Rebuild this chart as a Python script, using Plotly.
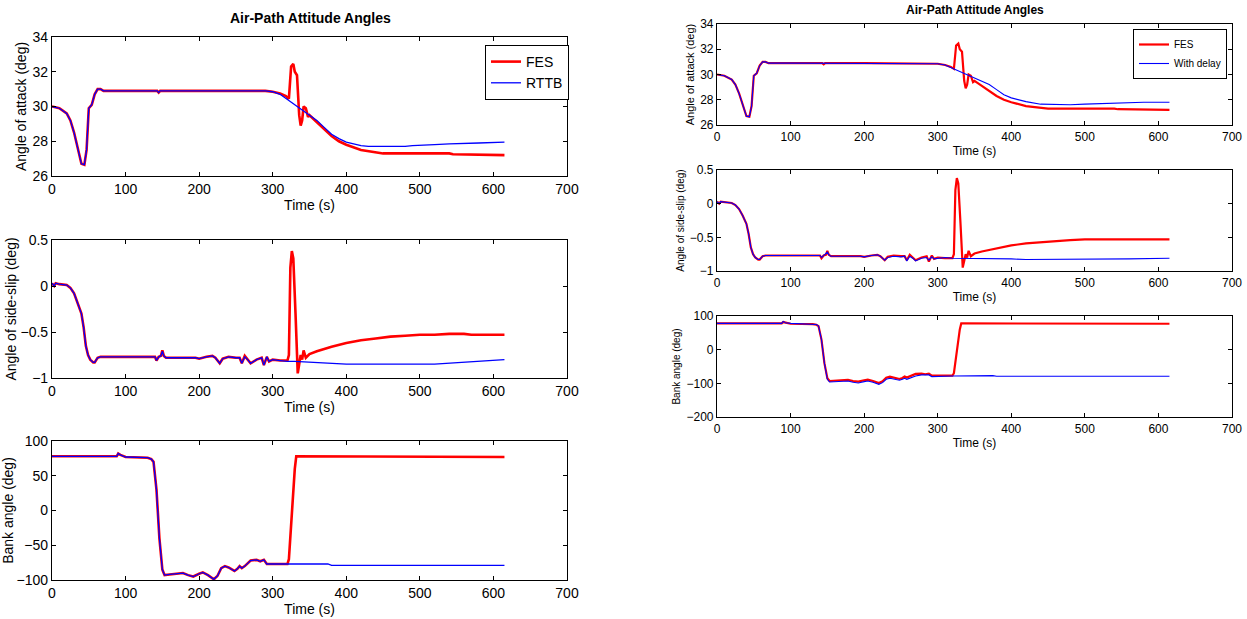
import plotly.graph_objects as go

# ---------------- data ----------------
# Angle of attack (deg)
t_aoa_fes = [0, 10, 20, 25, 30, 35, 40, 44, 47, 50, 54, 58, 62, 66, 70, 100, 143, 145, 147, 200, 290, 300,
             310, 318, 322, 325, 328, 330, 333, 336, 338, 340, 342, 345, 348, 350, 355, 360, 370, 380, 390,
             400, 420, 440, 450, 540, 545, 615]
aoa_fes = [30.0, 29.9, 29.6, 29.2, 28.5, 27.6, 26.7, 26.65, 27.5, 29.9, 30.1, 30.7, 31.0, 31.0, 30.9, 30.9,
           30.9, 30.8, 30.9, 30.9, 30.9, 30.85, 30.75, 30.6, 30.45, 32.3, 32.45, 32.0, 31.8, 29.5, 28.9, 29.2,
           30.0, 29.9, 29.4, 29.5, 29.3, 29.1, 28.7, 28.3, 28.0, 27.8, 27.5, 27.35, 27.3, 27.3, 27.25, 27.2]
t_aoa_rttb = [0, 10, 20, 25, 30, 35, 40, 44, 47, 50, 54, 58, 62, 66, 70, 100, 143, 145, 147, 200, 290, 300,
              310, 320, 330, 340, 350, 360, 370, 380, 390, 400, 420, 430, 480, 490, 520, 540, 580, 615]
aoa_rttb = [30.0, 29.9, 29.6, 29.2, 28.5, 27.6, 26.7, 26.65, 27.5, 29.9, 30.1, 30.7, 31.0, 31.0, 30.9, 30.9,
            30.9, 30.8, 30.9, 30.9, 30.9, 30.85, 30.7, 30.4, 30.1, 29.8, 29.5, 29.2, 28.8, 28.4, 28.15, 27.95,
            27.75, 27.7, 27.7, 27.75, 27.8, 27.85, 27.9, 27.95]
t_aoa_delay = [0, 10, 20, 25, 30, 35, 40, 44, 47, 50, 54, 58, 62, 66, 70, 100, 200, 290, 300,
               310, 320, 330, 340, 350, 360, 370, 380, 390, 400, 420, 440, 460, 480, 500, 540, 580, 615]
aoa_delay = [30.0, 29.9, 29.6, 29.2, 28.5, 27.6, 26.7, 26.65, 27.5, 29.9, 30.1, 30.7, 31.0, 31.0, 30.9, 30.9,
             30.9, 30.9, 30.85, 30.75, 30.5, 30.25, 30.0, 29.75, 29.5, 29.2, 28.8, 28.4, 28.15, 27.85, 27.65,
             27.6, 27.6, 27.65, 27.75, 27.8, 27.8]

# Angle of side-slip (deg)
t_ss_fes = [0, 3, 5, 10, 20, 25, 30, 35, 40, 43, 46, 49, 52, 56, 58, 62, 66, 90, 140, 142, 145, 148, 150, 152,
            155, 195, 200, 210, 218, 222, 228, 232, 240, 250, 255, 258, 262, 266, 270, 278, 285, 288, 292, 295,
            300, 310, 320, 322, 324, 326, 328, 331, 334, 336, 338, 340, 342, 345, 350, 360, 380, 400, 420, 440,
            460, 480, 500, 520, 540, 560, 570, 615]
ss_fes = [0.03, 0.0, 0.03, 0.02, 0.01, -0.02, -0.08, -0.18, -0.3, -0.45, -0.65, -0.75, -0.8, -0.83, -0.83,
          -0.78, -0.77, -0.77, -0.77, -0.81, -0.77, -0.76, -0.7, -0.76, -0.78, -0.78, -0.79, -0.77, -0.76, -0.78,
          -0.84, -0.79, -0.77, -0.78, -0.78, -0.84, -0.76, -0.8, -0.84, -0.8, -0.78, -0.86, -0.77, -0.82, -0.8,
          -0.81, -0.81, -0.75, 0.2, 0.38, 0.3, -0.3, -0.95, -0.85, -0.75, -0.8, -0.7, -0.78, -0.74, -0.71, -0.66,
          -0.62, -0.59, -0.57, -0.55, -0.54, -0.53, -0.53, -0.52, -0.52, -0.53, -0.53]
t_ss_rttb = [0, 3, 5, 10, 20, 25, 30, 35, 40, 43, 46, 49, 52, 56, 58, 62, 66, 90, 140, 142, 145, 148, 150, 152,
             155, 195, 200, 210, 218, 222, 228, 232, 240, 250, 255, 258, 262, 266, 270, 278, 285, 288, 292, 295,
             300, 310, 320, 330, 360, 380, 400, 520, 540, 570, 600, 615]
ss_rttb = [0.03, 0.0, 0.03, 0.02, 0.01, -0.02, -0.08, -0.18, -0.3, -0.45, -0.65, -0.75, -0.8, -0.83, -0.83,
           -0.78, -0.77, -0.77, -0.77, -0.81, -0.77, -0.76, -0.71, -0.76, -0.78, -0.78, -0.79, -0.77, -0.76, -0.78,
           -0.84, -0.79, -0.77, -0.78, -0.78, -0.84, -0.77, -0.8, -0.84, -0.8, -0.78, -0.86, -0.77, -0.82, -0.8,
           -0.81, -0.82, -0.82, -0.83, -0.84, -0.85, -0.85, -0.84, -0.83, -0.81, -0.8]
t_ss_delay = [0, 3, 5, 10, 20, 25, 30, 35, 40, 43, 46, 49, 52, 56, 58, 62, 66, 90, 140, 142, 145, 148, 150, 152,
              155, 195, 200, 210, 218, 222, 228, 232, 240, 250, 255, 258, 262, 266, 270, 278, 285, 288, 292, 295,
              300, 310, 320, 330, 380, 400, 420, 520, 560, 615]
ss_delay = [0.03, 0.0, 0.03, 0.02, 0.01, -0.02, -0.08, -0.18, -0.3, -0.45, -0.65, -0.75, -0.8, -0.83, -0.83,
            -0.78, -0.77, -0.77, -0.77, -0.8, -0.77, -0.75, -0.72, -0.76, -0.78, -0.78, -0.79, -0.77, -0.76, -0.78,
            -0.84, -0.8, -0.78, -0.79, -0.78, -0.85, -0.78, -0.81, -0.85, -0.81, -0.8, -0.84, -0.79, -0.82, -0.81,
            -0.8, -0.81, -0.81, -0.81, -0.82, -0.83, -0.83, -0.82, -0.81]

# Bank angle (deg)
t_bank_fes = [0, 88, 90, 93, 100, 130, 135, 138, 142, 146, 150, 153, 160, 170, 178, 185, 192, 200, 205, 212,
              220, 225, 230, 235, 240, 248, 252, 255, 258, 262, 270, 278, 283, 288, 292, 300, 320, 322, 326, 330,
              332, 340, 350, 615]
bank_fes = [78, 78, 82, 80, 77, 76, 74, 70, 30, -40, -85, -93, -92, -91, -90, -93, -95, -91, -89, -93, -99, -94,
            -83, -80, -82, -87, -84, -80, -83, -80, -72, -71, -73, -71, -77, -77, -77, -70, 0, 60, 78, 78, 77, 77]
t_bank_rttb = [0, 88, 90, 93, 100, 130, 135, 138, 142, 146, 150, 153, 160, 170, 178, 185, 192, 200, 205, 212,
               220, 225, 230, 235, 240, 248, 252, 255, 258, 262, 270, 278, 283, 288, 292, 300, 320, 375, 380, 615]
bank_rttb = [78, 78, 82, 80, 77, 76, 74, 70, 30, -40, -85, -93, -92, -91, -90, -93, -95, -91, -89, -93, -99, -94,
             -83, -80, -82, -87, -84, -80, -83, -80, -72, -71, -73, -71, -77, -77, -77, -77, -79, -79]
t_bank_delay = [0, 88, 90, 93, 100, 130, 135, 138, 142, 146, 150, 153, 160, 170, 178, 185, 192, 200, 205, 212,
                220, 225, 230, 235, 240, 248, 252, 255, 258, 262, 270, 278, 283, 288, 292, 300, 320, 375, 380, 615]
bank_delay = [78, 78, 84, 80, 78, 77, 75, 70, 30, -40, -88, -96, -95, -94, -93, -97, -99, -95, -93, -97, -103,
              -98, -88, -85, -87, -91, -88, -85, -88, -84, -78, -75, -76, -75, -80, -80, -78, -77, -79, -79]

# ---------------- figure ----------------
W, H = 1247, 619
RED, BLUE = "#ff0000", "#0000ff"
FONT = "Liberation Sans, Arial, sans-serif"


def dom_x(a, b):
    return [a / W, b / W]


def dom_y(top, bottom):
    return [1 - bottom / H, 1 - top / H]


panels = [
    dict(x=(52, 567), y=(37, 176), yr=[26, 34], dt=2, title="Angle of attack (deg)", fs=14, tfs=14, so=2),
    dict(x=(52, 567), y=(240, 378), yr=[-1, 0.5], dt=0.5, title="Angle of side-slip (deg)", fs=14, tfs=14, so=0),
    dict(x=(52, 567), y=(441, 580), yr=[-100, 100], dt=50, title="Bank angle (deg)", fs=14, tfs=14, so=0),
    dict(x=(717, 1232), y=(24, 125), yr=[26, 34], dt=2, title="Angle of attack (deg)", fs=12, tfs=11, so=3),
    dict(x=(717, 1232), y=(170, 271), yr=[-1, 0.5], dt=0.5, title="Angle of side-slip (deg)", fs=12, tfs=10, so=3),
    dict(x=(717, 1232), y=(316, 417), yr=[-200, 100], dt=100, title="Bank angle (deg)", fs=12, tfs=10, so=3),
]

series = [
    (t_aoa_fes, aoa_fes, t_aoa_rttb, aoa_rttb, "RTTB", "legend"),
    (t_ss_fes, ss_fes, t_ss_rttb, ss_rttb, "RTTB", "legend"),
    (t_bank_fes, bank_fes, t_bank_rttb, bank_rttb, "RTTB", "legend"),
    (t_aoa_fes, aoa_fes, t_aoa_delay, aoa_delay, "With delay", "legend2"),
    (t_ss_fes, ss_fes, t_ss_delay, ss_delay, "With delay", "legend2"),
    (t_bank_fes, bank_fes, t_bank_delay, bank_delay, "With delay", "legend2"),
]

fig = go.Figure()
layout = dict(width=W, height=H, margin=dict(l=0, r=0, t=0, b=0, autoexpand=False), paper_bgcolor="white",
              plot_bgcolor="white", font=dict(family=FONT, color="black"))

for i, (p, s) in enumerate(zip(panels, series)):
    n = i + 1
    xa = "x" if n == 1 else f"x{n}"
    ya = "y" if n == 1 else f"y{n}"
    left = i < 3
    red_w = 2.6 if left else 2.2
    blue_w = 1.3 if left else 1.1
    show = (i % 3 == 0)
    fig.add_trace(go.Scatter(x=s[0], y=s[1], mode="lines", name="FES", line=dict(color=RED, width=red_w),
                             xaxis=xa, yaxis=ya, showlegend=show, legend=s[5]))
    fig.add_trace(go.Scatter(x=s[2], y=s[3], mode="lines", name=s[4], line=dict(color=BLUE, width=blue_w),
                             xaxis=xa, yaxis=ya, showlegend=show, legend=s[5]))
    common = dict(showline=True, linecolor="black", linewidth=1.2, mirror="ticks", ticks="inside",
                  ticklen=4, tickcolor="black", showgrid=False, zeroline=False, automargin=False,
                  tickfont=dict(family=FONT, size=p["fs"], color="black"))
    layout["xaxis" if n == 1 else f"xaxis{n}"] = dict(
        domain=dom_x(*p["x"]), range=[0, 700], dtick=100, tick0=0, anchor=ya,
        title=dict(text="Time (s)", font=dict(size=p["fs"]), standoff=4), **common)
    layout["yaxis" if n == 1 else f"yaxis{n}"] = dict(
        domain=dom_y(*p["y"]), range=p["yr"], dtick=p["dt"], tick0=0, anchor=xa,
        title=dict(text=p["title"], font=dict(size=p["tfs"]), standoff=p["so"]), **common)

layout["legend"] = dict(x=485 / W, y=1 - 45 / H, xanchor="left", yanchor="top",
                        bgcolor="white", bordercolor="black", borderwidth=1,
                        font=dict(size=14, family=FONT), itemwidth=30, tracegroupgap=0)
layout["legend2"] = dict(x=1227 / W, y=1 - 29 / H, xanchor="right", yanchor="top",
                         bgcolor="white", bordercolor="black", borderwidth=1,
                         font=dict(size=10, family=FONT), itemwidth=30, tracegroupgap=0)

layout["annotations"] = [
    dict(text="<b>Air-Path Attitude Angles</b>", x=310 / W, y=1 - 18 / H, xref="paper", yref="paper",
         showarrow=False, font=dict(size=14, family=FONT), xanchor="center", yanchor="middle"),
    dict(text="<b>Air-Path Attitude Angles</b>", x=975 / W, y=1 - 10 / H, xref="paper", yref="paper",
         showarrow=False, font=dict(size=12, family=FONT), xanchor="center", yanchor="middle"),
]

fig.update_layout(**layout)
fig.write_html("out.html", config={"displayModeBar": False},
               post_script="document.body.style.margin='0';document.body.style.overflow='hidden';")
